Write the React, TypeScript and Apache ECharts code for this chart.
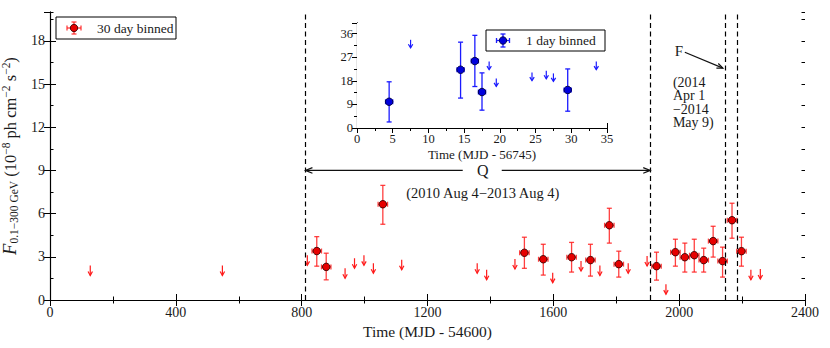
import React, { useEffect, useRef } from 'react';
import * as echarts from 'echarts';

// ---------- main light curve (30 day bins) ----------
const mainX = [848, 878, 1058, 1508, 1568, 1658, 1718, 1778, 1808, 1928, 1988, 2018, 2048, 2078, 2108, 2138, 2168, 2198];
const mainY = [3.4, 2.3, 6.65, 3.28, 2.83, 2.97, 2.77, 5.19, 2.49, 2.35, 3.32, 2.97, 3.11, 2.77, 4.09, 2.7, 5.54, 3.39];
const mainLo = [2.35, 1.4, 5.26, 2.2, 1.73, 1.94, 1.66, 3.95, 1.59, 1.38, 2.35, 1.94, 1.94, 1.94, 2.98, 1.59, 4.29, 2.35];
const mainHi = [4.4, 3.25, 7.96, 4.36, 3.87, 4.0, 3.87, 6.37, 3.39, 3.32, 4.22, 3.95, 4.22, 3.6, 5.12, 3.67, 6.72, 4.36];
const binHalfWidth = 15;
const ulX = [128, 548, 818, 938, 968, 998, 1028, 1118, 1358, 1388, 1478, 1598, 1688, 1748, 1838, 1898, 1958, 2228, 2258];
const ulY = [2.4, 2.4, 3.1, 2.2, 2.9, 3.1, 2.55, 2.8, 2.55, 2.1, 2.85, 1.9, 2.7, 2.4, 2.55, 3.05, 1.1, 2.1, 2.15];
const periodLines = [812, 1908, 2148, 2186];

// ---------- inset (1 day bins) ----------
const insetX = [4.5, 14.5, 16.5, 17.5, 29.5];
const insetY = [10.0, 22.2, 25.5, 13.7, 14.5];
const insetLo = [2.3, 11.4, 15.8, 6.8, 6.4];
const insetHi = [17.6, 32.7, 35.3, 21.0, 22.5];
const dayHalfWidth = 0.5;
const insetUlX = [7.5, 18.5, 19.5, 24.5, 26.5, 27.5, 33.5];
const insetUlY = [33.6, 25.3, 18.9, 21.1, 21.8, 20.8, 25.3];

// ---------- texts ----------
const mainLegend = '30 day binned';
const insetLegend = '1 day binned';
const mainXName = 'Time (MJD - 54600)';
const insetXName = 'Time (MJD - 56745)';
const qLabel = 'Q';
const qDates = '(2010 Aug 4\u22122013 Aug 4)';
const fLabel = 'F';
const fDates = '(2014\nApr 1\n\u22122014\nMay 9)';

const FONT = 'Liberation Serif';
const TXT = '#1a1a1a';
const RED = '#ff1a1a';
const RED_ERR = 'rgba(255,30,30,0.85)';
const BLUE = '#1a1aff';

function errorBarRenderer(color: string, capHalf: number, lw: number) {
  return (_params: any, api: any) => {
    const x = api.value(0), y = api.value(1), lo = api.value(2), hi = api.value(3), xe = api.value(4);
    const a = api.coord([x, lo]);
    const b = api.coord([x, hi]);
    const l = api.coord([x - xe, y]);
    const r = api.coord([x + xe, y]);
    const st = { stroke: color, lineWidth: lw, fill: null };
    const ln = (x1: number, y1: number, x2: number, y2: number) => ({ type: 'line', shape: { x1, y1, x2, y2 }, style: st });
    return {
      type: 'group',
      children: [
        ln(a[0], a[1], b[0], b[1]),
        ln(a[0] - capHalf, a[1], a[0] + capHalf, a[1]),
        ln(b[0] - capHalf, b[1], b[0] + capHalf, b[1]),
        ln(l[0], l[1], r[0], r[1]),
        ln(l[0], l[1] - capHalf, l[0], l[1] + capHalf),
        ln(r[0], r[1] - capHalf, r[0], r[1] + capHalf),
      ],
    };
  };
}

function arrowRenderer(color: string, len: number, headW: number, headL: number) {
  return (_params: any, api: any) => {
    const p = api.coord([api.value(0), api.value(1)]);
    const x = p[0], y0 = p[1], y1 = p[1] + len;
    return {
      type: 'group',
      children: [
        { type: 'line', shape: { x1: x, y1: y0, x2: x, y2: y1 }, style: { stroke: color, lineWidth: 1.2 } },
        { type: 'polyline', shape: { points: [[x - headW, y1 - headL], [x, y1], [x + headW, y1 - headL]] }, style: { stroke: color, lineWidth: 1.2, fill: null } },
      ],
    };
  };
}

const axisLineStyle = { show: true, lineStyle: { color: '#000', width: 1.1 } };
const plain = (v: number) => String(v);

function valueAxis(opts: any) {
  return {
    type: 'value',
    splitLine: { show: false },
    axisLine: axisLineStyle,
    axisTick: { show: true, inside: true, length: 6, lineStyle: { color: '#000', width: 1 } },
    ...opts,
  };
}

export default function App() {
  const ref = useRef<HTMLDivElement>(null);
  useEffect(() => {
    if (!ref.current) return;
    const chart = echarts.init(ref.current, undefined, { renderer: 'svg' });
    const minor = (n: number, len: number) => ({ show: true, splitNumber: n, length: len, lineStyle: { color: '#000', width: 1 } });
    const insetTick = { show: true, inside: true, length: 5, lineStyle: { color: '#000' } };
    const minorAxisTick = { show: true, inside: true, length: 3.5, lineStyle: { color: '#000' } };
    const option: any = {
      animation: false,
      backgroundColor: '#fff',
      grid: [
        { left: 50, top: 12, width: 755, height: 288, show: false, containLabel: false, outerBoundsMode: 'none' },
        { left: 357, top: 23, width: 250, height: 105, show: true, backgroundColor: '#fff', borderWidth: 0, z: 5, containLabel: false, outerBoundsMode: 'none' },
      ],
      xAxis: [
        valueAxis({
          gridIndex: 0, position: 'bottom', min: 0, max: 2400, interval: 400,
          minorTick: minor(2, 3.5),
          axisLabel: { color: TXT, fontSize: 14, fontFamily: FONT, margin: 5, formatter: plain },
          name: mainXName, nameLocation: 'middle', nameGap: 23,
          nameTextStyle: { color: TXT, fontSize: 15.5, fontFamily: FONT, verticalAlign: 'top' },
        }),
        valueAxis({ gridIndex: 0, position: 'top', min: 0, max: 2400, interval: 400, minorTick: minor(2, 3.5), axisLabel: { show: false } }),
        valueAxis({
          gridIndex: 1, position: 'bottom', min: 0, max: 35, interval: 5,
          minorTick: minor(2, 3),
          axisTick: insetTick,
          axisLabel: { color: TXT, fontSize: 12.5, fontFamily: FONT, margin: 4, formatter: plain },
          name: insetXName, nameLocation: 'middle', nameGap: 20,
          nameTextStyle: { color: TXT, fontSize: 13, fontFamily: FONT, verticalAlign: 'top' },
        }),
        valueAxis({ gridIndex: 1, position: 'top', min: 0, max: 35, interval: 5, minorTick: minor(2, 3), axisTick: insetTick, axisLabel: { show: false } }),
      ],
      yAxis: [
        valueAxis({
          gridIndex: 0, position: 'left', min: 0, max: 20, interval: 3,
          axisLabel: { color: TXT, fontSize: 14, fontFamily: FONT, margin: 5, showMaxLabel: false, formatter: plain },
          name: '{f|F}{sub|0.1\u2212300 GeV}{t| (10}{sup|\u22128}{t| ph cm}{sup|\u22122}{t| s}{sup|\u22122}{t|)}',
          nameLocation: 'middle', nameRotate: 90, nameGap: 26,
          nameTextStyle: {
            color: TXT, fontFamily: FONT, fontSize: 16.5,
            rich: {
              f: { fontFamily: FONT, fontStyle: 'italic', fontSize: 18.5, lineHeight: 20, verticalAlign: 'middle', color: TXT },
              t: { fontFamily: FONT, fontSize: 16.5, lineHeight: 20, verticalAlign: 'middle', color: TXT },
              sub: { fontFamily: FONT, fontSize: 11.5, lineHeight: 10, verticalAlign: 'bottom', color: TXT },
              sup: { fontFamily: FONT, fontSize: 11.5, lineHeight: 10, verticalAlign: 'top', color: TXT },
            },
          },
        }),
        valueAxis({ gridIndex: 0, position: 'right', min: 0, max: 20, interval: 3, axisLabel: { show: false } }),
        valueAxis({ gridIndex: 0, position: 'left', min: 0, max: 20, interval: 1.5, axisLine: { show: false }, axisTick: minorAxisTick, axisLabel: { show: false } }),
        valueAxis({ gridIndex: 0, position: 'right', min: 0, max: 20, interval: 1.5, axisLine: { show: false }, axisTick: minorAxisTick, axisLabel: { show: false } }),
        valueAxis({
          gridIndex: 1, position: 'left', min: 0, max: 40, interval: 9,
          minorTick: minor(2, 3),
          axisTick: insetTick,
          axisLabel: { color: TXT, fontSize: 12.5, fontFamily: FONT, margin: 4, showMaxLabel: false, formatter: plain },
        }),
        valueAxis({ gridIndex: 1, position: 'right', min: 0, max: 40, interval: 9, minorTick: minor(2, 3), axisTick: insetTick, axisLabel: { show: false } }),
      ],
      series: [
        {
          name: 'periods', type: 'custom', xAxisIndex: 0, yAxisIndex: 0,
          data: [], renderItem: () => ({ type: 'group', children: [] }),
          markLine: {
            silent: true, symbol: 'none', animation: false,
            label: { show: false },
            lineStyle: { color: '#000', width: 1.2, type: [5, 3.5] },
            data: periodLines.map((v) => ({ xAxis: v })),
          },
        },
        {
          name: 'mainErr', type: 'custom', xAxisIndex: 0, yAxisIndex: 0, z: 3,
          renderItem: errorBarRenderer(RED_ERR, 2.5, 1.3),
          data: mainX.map((x, i) => [x, mainY[i], mainLo[i], mainHi[i], binHalfWidth]),
        },
        {
          name: mainLegend, type: 'scatter', xAxisIndex: 0, yAxisIndex: 0, z: 4,
          symbol: 'circle', symbolSize: 7.5,
          itemStyle: { color: '#e60000', borderColor: '#3a0000', borderWidth: 0.9, opacity: 1 },
          data: mainX.map((x, i) => [x, mainY[i]]),
        },
        {
          name: 'mainUL', type: 'custom', xAxisIndex: 0, yAxisIndex: 0, z: 3,
          renderItem: arrowRenderer(RED, 10, 2.2, 4),
          data: ulX.map((x, i) => [x, ulY[i]]),
        },
        {
          name: 'insetErr', type: 'custom', xAxisIndex: 2, yAxisIndex: 4, z: 6,
          renderItem: errorBarRenderer(BLUE, 2.5, 1.3),
          data: insetX.map((x, i) => [x, insetY[i], insetLo[i], insetHi[i], dayHalfWidth]),
        },
        {
          name: insetLegend, type: 'scatter', xAxisIndex: 2, yAxisIndex: 4, z: 7,
          symbol: 'circle', symbolSize: 7.5,
          itemStyle: { color: '#0000dd', borderColor: '#00003a', borderWidth: 0.9, opacity: 1 },
          data: insetX.map((x, i) => [x, insetY[i]]),
        },
        {
          name: 'insetUL', type: 'custom', xAxisIndex: 2, yAxisIndex: 4, z: 6,
          renderItem: arrowRenderer(BLUE, 8, 2.2, 3.5),
          data: insetUlX.map((x, i) => [x, insetUlY[i]]),
        },
      ],
    };
    chart.setOption(option);

    // annotations positioned in data units via the grid's own scale
    const px = (x: number, y: number) => chart.convertToPixel({ xAxisIndex: 0, yAxisIndex: 0 } as any, [x, y]) as number[];
    const blk = { stroke: '#111', lineWidth: 1.2, fill: null };
    const headLines = (from: number[], to: number[], len: number, half: number) => {
      const dx = to[0] - from[0], dy = to[1] - from[1];
      const d = Math.hypot(dx, dy);
      const ux = dx / d, uy = dy / d;
      const bx = to[0] - ux * len, by = to[1] - uy * len;
      return { type: 'polyline', z: 50, shape: { points: [[bx - uy * half, by + ux * half], to, [bx + uy * half, by - ux * half]] }, style: blk };
    };
    const qY = 9.0;
    const qL0 = px(1312, qY), qL1 = px(periodLines[0], qY);
    const qR0 = px(1436, qY), qR1 = px(periodLines[1], qY);
    const qC = px(1376, qY), qD = px(1376, 7.4);
    const fT = px(1999, 17.3), fA0 = px(2018, 17.2), fA1 = px(2139, 16.1), fB = px(1980, 15.1);

    const legendIcon = (cx: number, cy: number, color: string, fill: string, edge: string, hw: number, hh: number) => {
      const st = { stroke: color, lineWidth: 1.3 };
      return [
        { type: 'line', z: 42, shape: { x1: cx - hw, y1: cy, x2: cx + hw, y2: cy }, style: st },
        { type: 'line', z: 42, shape: { x1: cx - hw, y1: cy - 2.5, x2: cx - hw, y2: cy + 2.5 }, style: st },
        { type: 'line', z: 42, shape: { x1: cx + hw, y1: cy - 2.5, x2: cx + hw, y2: cy + 2.5 }, style: st },
        { type: 'line', z: 42, shape: { x1: cx, y1: cy - hh, x2: cx, y2: cy + hh }, style: st },
        { type: 'line', z: 42, shape: { x1: cx - 2.5, y1: cy - hh, x2: cx + 2.5, y2: cy - hh }, style: st },
        { type: 'line', z: 42, shape: { x1: cx - 2.5, y1: cy + hh, x2: cx + 2.5, y2: cy + hh }, style: st },
        { type: 'circle', z: 43, shape: { cx, cy, r: 3.7 }, style: { fill, stroke: edge, lineWidth: 0.9 } },
      ];
    };

    chart.setOption({
      graphic: [
        { type: 'line', z: 50, shape: { x1: qL0[0], y1: qL0[1], x2: qL1[0], y2: qL1[1] }, style: blk },
        headLines(qL0, qL1, 7, 2.8),
        { type: 'line', z: 50, shape: { x1: qR0[0], y1: qR0[1], x2: qR1[0], y2: qR1[1] }, style: blk },
        headLines(qR0, qR1, 7, 2.8),
        { type: 'text', z: 50, style: { text: qLabel, x: qC[0], y: qC[1], textAlign: 'center', textVerticalAlign: 'middle', fill: TXT, fontSize: 16, fontFamily: FONT } },
        { type: 'text', z: 50, style: { text: qDates, x: qD[0], y: qD[1], textAlign: 'center', textVerticalAlign: 'middle', fill: TXT, fontSize: 14.5, fontFamily: FONT } },
        { type: 'text', z: 50, style: { text: fLabel, x: fT[0], y: fT[1], textAlign: 'center', textVerticalAlign: 'middle', fill: TXT, fontSize: 15, fontFamily: FONT } },
        { type: 'line', z: 50, shape: { x1: fA0[0], y1: fA0[1], x2: fA1[0], y2: fA1[1] }, style: blk },
        headLines(fA0, fA1, 6, 2.5),
        { type: 'text', z: 50, style: { text: fDates, x: fB[0], y: fB[1] - 7, textAlign: 'left', textVerticalAlign: 'top', fill: TXT, fontSize: 14, lineHeight: 13.5, fontFamily: FONT } },
        // legend boxes
        { type: 'rect', z: 40, shape: { x: 56, y: 17, width: 120, height: 22 }, style: { fill: '#fff', stroke: '#000', lineWidth: 1 } },
        ...legendIcon(74, 28, RED_ERR, '#e60000', '#3a0000', 7, 6),
        { type: 'text', z: 42, style: { text: mainLegend, x: 97, y: 28, textVerticalAlign: 'middle', fill: TXT, fontSize: 13.5, fontFamily: FONT } },
        { type: 'rect', z: 40, shape: { x: 486, y: 30, width: 119, height: 21 }, style: { fill: '#fff', stroke: '#000', lineWidth: 1 } },
        ...legendIcon(503, 40.5, BLUE, '#0000dd', '#00003a', 6.5, 6.5),
        { type: 'text', z: 42, style: { text: insetLegend, x: 526, y: 40.5, textVerticalAlign: 'middle', fill: TXT, fontSize: 13.5, fontFamily: FONT } },
      ],
    });

    return () => chart.dispose();
  }, []);
  return <div ref={ref} style={{ position: 'fixed', left: 0, top: 0, width: 830, height: 348 }} />;
}
